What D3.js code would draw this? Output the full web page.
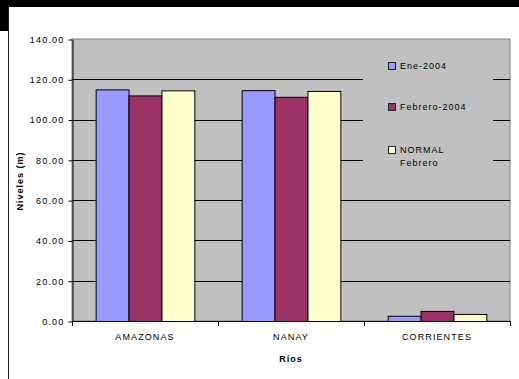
<!DOCTYPE html>
<html>
<head>
<meta charset="utf-8">
<script src="https://cdn.jsdelivr.net/npm/d3@7"></script>
<style>
  body { margin: 0; background: #fff; }
  svg text { font-family: "Liberation Sans", Arial, sans-serif; fill: #000; }
</style>
</head>
<body>
<svg id="chart" width="519" height="379"></svg>
<script>
// datos
const rios = ["AMAZONAS", "NANAY", "CORRIENTES"];
const series = ["Ene-2004", "Febrero-2004", "NORMAL Febrero"];
const ene2004 = [115.0, 114.6, 2.6];
const feb2004 = [112.0, 111.3, 5.0];
const normalFeb = [114.5, 114.2, 3.5];
const colores = ["#9999ff", "#993366", "#ffffcc"];
const yTicks = [0, 20, 40, 60, 80, 100, 120, 140];

const valores = [ene2004, feb2004, normalFeb];

const svg = d3.select("#chart");
const pLeft = 72, pRight = 510, pTop = 39, pBottom = 321;

/**** marco ****/
svg.append("rect").attr("x", 0).attr("y", 0).attr("width", 519).attr("height", 379).style("fill", "#fff");
svg.append("rect").attr("x", 0).attr("y", 0).attr("width", 519).attr("height", 7).style("fill", "#000");
svg.append("rect").attr("x", 0).attr("y", 0).attr("width", 8).attr("height", 31).style("fill", "#000");
svg.append("line").attr("x1", 8.5).attr("x2", 8.5).attr("y1", 7).attr("y2", 379)
    .attr("stroke", "#222").attr("stroke-width", 1);

const x0 = d3.scaleBand().domain(rios).range([pLeft, pRight]).padding(0);
const pad = x0.bandwidth() * 0.162;
const x1 = d3.scaleBand().domain(series).range([pad, x0.bandwidth() - pad]).padding(0);
const y = d3.scaleLinear().domain([0, 140]).range([pBottom, pTop]);

// fondo del area
svg.append("rect").attr("x", pLeft).attr("y", pTop).attr("width", pRight - pLeft).attr("height", pBottom - pTop)
    .style("fill", "#c0c0c0").attr("stroke", "#808080").attr("stroke-width", 1);

// lineas de division
svg.append("g").selectAll("line").data(yTicks.filter(t => t > 0 && t < 140)).join("line")
    .attr("x1", pLeft).attr("x2", pRight)
    .attr("y1", d => Math.round(y(d)) + 0.5).attr("y2", d => Math.round(y(d)) + 0.5)
    .attr("stroke", "#000").attr("stroke-width", 1);

// leyenda (tapa las lineas)
svg.append("rect").attr("x", 363).attr("y", 45).attr("width", 130).attr("height", 140).style("fill", "#c0c0c0");

// barras
series.forEach(function (s, i) {
    svg.append("g").selectAll("rect").data(rios).join("rect")
        .attr("x", (r) => x0(r) + x1(s) + 0.5)
        .attr("y", (r, j) => y(valores[i][j]) + 0.5)
        .attr("width", x1.bandwidth())
        .attr("height", (r, j) => pBottom - y(valores[i][j]))
        .style("fill", colores[i])
        .attr("stroke", "#000").attr("stroke-width", 1);
});

// eje y
const yAxis = svg.append("g").attr("transform", "translate(" + (pLeft + 0.5) + ",0.5)")
    .call(d3.axisLeft(y).tickValues(yTicks).tickFormat(d3.format(".2f")).tickSize(4).tickSizeOuter(0).tickPadding(4));
yAxis.selectAll("text").style("font-size", "9px").style("letter-spacing", "1.2px");
yAxis.select(".domain").attr("stroke", "#000");

// eje x
svg.append("line").attr("x1", pLeft).attr("x2", pRight + 1).attr("y1", pBottom + 0.5).attr("y2", pBottom + 0.5)
    .attr("stroke", "#000");
svg.append("g").selectAll("line").data([pLeft].concat(rios.map(r => x0(r) + x0.bandwidth()))).join("line")
    .attr("x1", d => Math.round(d) + 0.5).attr("x2", d => Math.round(d) + 0.5)
    .attr("y1", pBottom).attr("y2", pBottom + 5).attr("stroke", "#000");
const xAxis = svg.append("g").attr("transform", "translate(0," + pBottom + ")")
    .call(d3.axisBottom(x0).tickSize(0).tickPadding(13));
xAxis.select(".domain").remove();
xAxis.selectAll("text").style("font-size", "9px").style("letter-spacing", "1.1px");

// titulos
svg.append("text").attr("x", 291).attr("y", 361.5).attr("text-anchor", "middle")
    .style("font-size", "9px").style("font-weight", "bold").style("letter-spacing", "1px").text("Ríos");
svg.append("text").attr("transform", "translate(23,181) rotate(-90)").attr("text-anchor", "middle")
    .style("font-size", "9px").style("font-weight", "bold").style("letter-spacing", "1px").text("Niveles (m)");

// leyenda
const leyenda = [
    { y: 62, lines: ["Ene-2004"] },
    { y: 103, lines: ["Febrero-2004"] },
    { y: 146, lines: ["NORMAL", "Febrero"] }
];
leyenda.forEach(function (l, i) {
    svg.append("rect").attr("x", 388.5).attr("y", l.y + 0.5).attr("width", 7).attr("height", 7)
        .style("fill", colores[i]).attr("stroke", "#222");
    l.lines.forEach(function (t, k) {
        svg.append("text").attr("x", 400).attr("y", l.y + 6.5 + k * 13.7)
            .style("font-size", "9px").style("letter-spacing", "1px").text(t);
    });
});
</script>
</body>
</html>
